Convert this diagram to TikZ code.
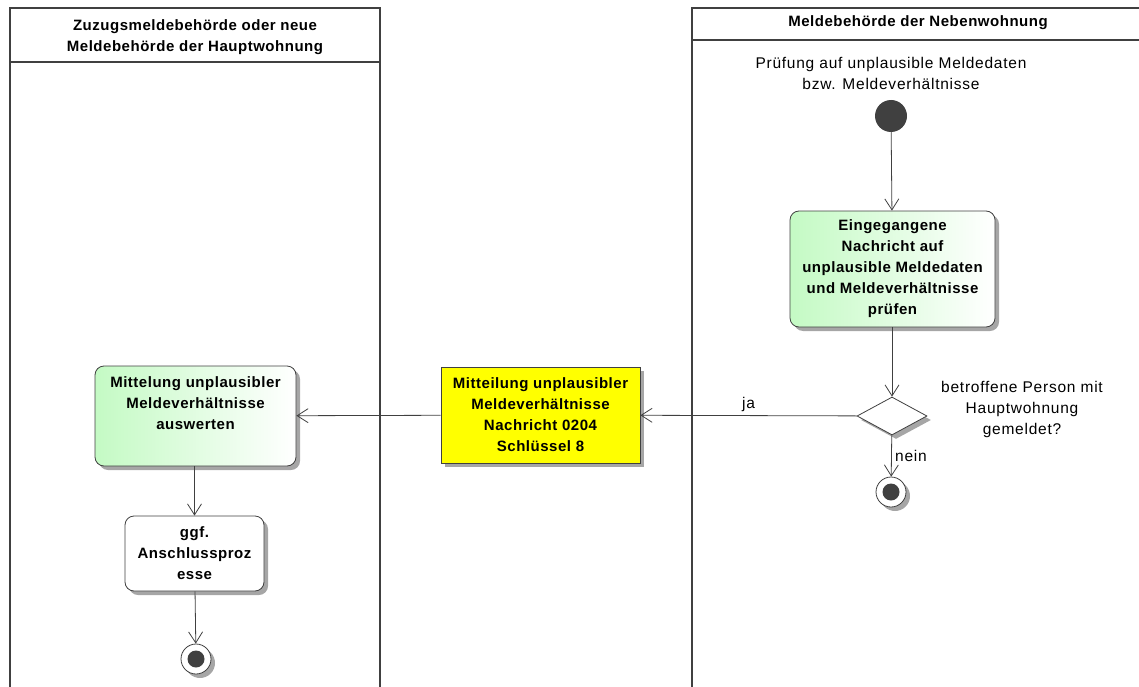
\documentclass[tikz,border=0pt]{standalone}
\usepackage{fontspec}
\setmainfont{Liberation Sans}[LetterSpace=4.9, BoldFeatures={LetterSpace=3.5}]
\usetikzlibrary{shapes.geometric, arrows.meta, positioning, shadows}

\definecolor{linie}{RGB}{64,64,64}
\definecolor{gruen}{RGB}{196,250,196}
\definecolor{gelb}{RGB}{255,255,0}
\newcommand{\schrift}{\fontsize{15.5}{21}\selectfont}
\newcommand{\fett}{\fontsize{15}{21}\selectfont\bfseries}

\begin{document}
\begin{tikzpicture}[x=1pt, y=-1pt,
            bahn/.style={draw=linie, line width=1.8pt},
            kopf/.style={align=center, font=\fett},
            schatten/.style={drop shadow={shadow xshift=4pt, shadow yshift=-4pt, fill=black!35, opacity=1}},
            aktion/.style={rectangle, rounded corners=9pt, draw=linie, line width=0.8pt, align=center, font=\fett, schatten, left color=gruen, right color=white},
            weiss/.style={rectangle, rounded corners=9pt, draw=linie, line width=0.8pt, align=center, font=\fett, schatten, fill=white},
            nachricht/.style={rectangle, draw=linie, line width=0.8pt, align=center, font=\fett, schatten, fill=gelb},
            raute/.style={diamond, aspect=1.84, draw=linie, line width=0.8pt, fill=white, minimum width=70pt, minimum height=38pt, inner sep=0pt, schatten},
            start/.style={circle, fill=linie, minimum size=32pt, inner sep=0pt},
            ende/.style={circle, draw=linie, line width=0.8pt, fill=white, minimum size=30pt, inner sep=0pt, schatten},
            endepunkt/.style={circle, fill=linie, minimum size=17pt, inner sep=0pt},
            pfeil/.style={draw=linie, line width=0.8pt, -{Straight Barb[length=11pt, width=14pt]}},
            beschr/.style={align=center, font=\schrift}]

            \useasboundingbox (0,0) rectangle (1139,687);

            % Bahnen
            \draw[bahn] (10,687) -- (10,8) -- (380,8) -- (380,687);
            \draw[bahn] (10,62) -- (380,62);
            \draw[bahn] (692,687) -- (692,8) -- (1139,8);
            \draw[bahn] (692,40) -- (1139,40);

            \node[kopf] (kopfA) at (195,37.5) {Zuzugsmeldebehörde oder neue\\Meldebehörde der Hauptwohnung};
            \node[kopf] (kopfB) at (918,23) {Meldebehörde der Nebenwohnung};

            % Meldebehoerde der Nebenwohnung
            \node[beschr] (pruef) at (891,73.5) {Prüfung auf unplausible Meldedaten\\bzw. Meldeverhältnisse};
            \node[start] (anf) at (891,116) {};
            \node[aktion, minimum width=205pt, minimum height=116pt] (eing) at (892.5,269) {Eingegangene\\Nachricht auf\\unplausible Meldedaten\\und Meldeverhältnisse\\prüfen};
            \node[raute] (frage) at (892,416) {};
            \node[beschr] (frtext) at (1022,409) {betroffene Person mit\\Hauptwohnung\\gemeldet?};
            \node[ende] (endeB) at (891,492) {};
            \node[endepunkt] (endeBp) at (891,492) {};

            % Nachricht
            \node[nachricht, minimum width=199pt, minimum height=96pt] (msg) at (540.5,415) {Mitteilung unplausibler\\Meldeverhältnisse\\Nachricht 0204\\Schlüssel 8};

            % Zuzugsmeldebehoerde
            \node[aktion, minimum width=201pt, minimum height=100pt, text depth=26pt] (ausw) at (195.5,416) {Mittelung unplausibler\\Meldeverhältnisse\\auswerten};
            \node[weiss, minimum width=139pt, minimum height=75pt] (ggf) at (194.5,553.5) {ggf.\\Anschlussproz\\esse};
            \node[ende] (endeA) at (196,659) {};
            \node[endepunkt] (endeAp) at (196,659) {};

            \draw[pfeil] (anf) -- (eing);
            \draw[pfeil] (eing.south -| frage) -- (frage);
            \draw[pfeil] (frage) -- node[midway, right, font=\schrift] {nein} (endeB);
            \draw[pfeil] (frage) -- node[midway, above, font=\schrift] {ja} (msg);
            \draw[pfeil] (msg) -- (ausw);
            \draw[pfeil] (ausw.south -| ggf) -- (ggf);
            \draw[pfeil] (ggf) -- (endeA);
        \end{tikzpicture}
\end{document}
